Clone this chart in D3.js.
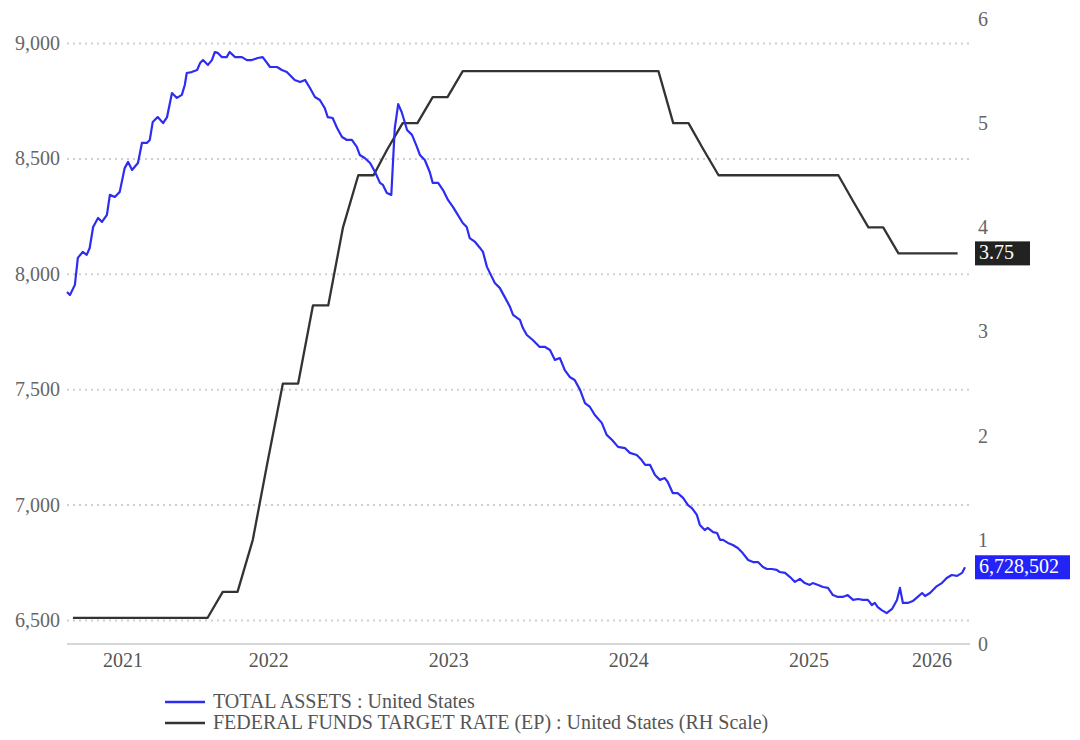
<!DOCTYPE html>
<html>
<head>
<meta charset="utf-8">
<script src="https://cdn.jsdelivr.net/npm/d3@7"></script>
<style>
  body { margin: 0; background: #fff; }
  svg text { font-family: "Liberation Serif", "Times New Roman", serif; }
</style>
</head>
<body>
<svg id="chart"></svg>
<script>
// total assets, billions of US$ (weekly)
var assetDates = ["2021-05-19","2021-05-25","2021-06-04","2021-06-10","2021-06-20","2021-06-28","2021-07-04","2021-07-11","2021-07-21","2021-07-29",
  "2021-08-08","2021-08-14","2021-08-24","2021-09-03","2021-09-13","2021-09-20","2021-09-28","2021-10-10","2021-10-18","2021-10-28",
  "2021-11-03","2021-11-09","2021-11-19","2021-11-30","2021-12-08","2021-12-18","2021-12-28","2022-01-07","2022-01-13","2022-01-17",
  "2022-01-27","2022-02-07","2022-02-13","2022-02-19","2022-03-01","2022-03-09","2022-03-15","2022-03-21","2022-03-29","2022-04-08",
  "2022-04-14","2022-04-25","2022-05-09","2022-05-19","2022-05-29","2022-06-10","2022-06-20","2022-07-05","2022-07-19","2022-07-29",
  "2022-08-08","2022-08-14","2022-08-24","2022-09-04","2022-09-14","2022-09-24","2022-10-04","2022-10-14","2022-10-24","2022-10-30",
  "2022-11-09","2022-11-18","2022-11-28","2022-12-08","2022-12-18","2022-12-28","2023-01-03","2023-01-13","2023-01-24","2023-02-03",
  "2023-02-13","2023-02-19","2023-02-27","2023-03-08","2023-03-15","2023-03-22","2023-03-29","2023-04-09","2023-04-19","2023-04-29",
  "2023-05-05","2023-05-15","2023-05-25","2023-05-31","2023-06-11","2023-06-21","2023-07-01","2023-07-11","2023-07-21","2023-07-31",
  "2023-08-08","2023-08-14","2023-08-25","2023-09-04","2023-09-10","2023-09-18","2023-09-24","2023-10-04","2023-10-14","2023-10-24",
  "2023-11-04","2023-11-10","2023-11-24","2023-11-30","2023-12-08","2023-12-20","2024-01-03","2024-01-14","2024-01-24","2024-02-03",
  "2024-02-13","2024-02-23","2024-03-04","2024-03-14","2024-03-25","2024-04-04","2024-04-14","2024-04-24","2024-05-08","2024-05-18",
  "2024-05-29","2024-06-10","2024-06-24","2024-07-04","2024-07-18","2024-07-28","2024-08-04","2024-08-14","2024-08-24","2024-09-03",
  "2024-09-13","2024-09-19","2024-09-29","2024-10-09","2024-10-20","2024-10-30","2024-11-07","2024-11-17","2024-11-23","2024-12-03",
  "2024-12-09","2024-12-20","2024-12-28","2025-01-03","2025-01-09","2025-01-19","2025-01-29","2025-02-08","2025-02-18","2025-03-01",
  "2025-03-11","2025-03-21","2025-03-31","2025-04-08","2025-04-18","2025-04-28","2025-05-04","2025-05-15","2025-05-25","2025-06-04",
  "2025-06-14","2025-06-24","2025-07-04","2025-07-10","2025-07-21","2025-07-31","2025-08-10","2025-08-20","2025-08-30","2025-09-09",
  "2025-09-19","2025-09-30","2025-10-10","2025-10-20","2025-10-30","2025-11-07","2025-11-13","2025-11-19","2025-11-27","2025-12-07",
  "2025-12-18","2025-12-28","2026-01-03","2026-01-09","2026-01-19","2026-01-29","2026-02-08","2026-02-17","2026-02-23","2026-03-05",
  "2026-03-19","2026-03-29","2026-04-08","2026-04-18","2026-04-29","2026-05-09","2026-05-15"];
var assetValues = [7921,7908,7952,8069,8095,8082,8112,8203,8242,8225,
  8255,8342,8333,8355,8458,8485,8450,8480,8567,8567,
  8580,8658,8679,8653,8679,8783,8762,8775,8818,8870,
  8874,8883,8913,8926,8905,8926,8961,8957,8939,8939,
  8961,8939,8939,8926,8926,8935,8939,8896,8896,8883,
  8874,8861,8840,8831,8840,8805,8766,8753,8718,8679,
  8675,8632,8593,8580,8580,8550,8515,8502,8480,8441,
  8394,8385,8350,8342,8630,8735,8701,8623,8602,8550,
  8515,8493,8441,8394,8394,8363,8320,8290,8255,8220,
  8203,8155,8138,8112,8095,8030,8004,7960,7939,7900,
  7856,7822,7800,7765,7735,7713,7683,7683,7670,7627,
  7635,7583,7553,7540,7497,7440,7423,7388,7354,7302,
  7280,7250,7245,7224,7215,7193,7172,7172,7128,7107,
  7115,7098,7050,7050,7029,6998,6985,6955,6912,6890,
  6899,6881,6877,6847,6847,6834,6825,6812,6790,6760,
  6751,6751,6730,6721,6721,6717,6708,6704,6686,6665,
  6678,6660,6652,6660,6652,6643,6639,6608,6600,6600,
  6608,6587,6591,6587,6587,6565,6574,6556,6543,6530,
  6548,6587,6639,6574,6574,6582,6600,6617,6604,6617,
  6647,6660,6682,6695,6691,6704,6728.502];

// fed funds target rate, month end, %
var rateDates = ["2021-05-31","2021-06-30","2021-07-31","2021-08-31","2021-09-30","2021-10-31","2021-11-30","2021-12-31",
  "2022-01-31","2022-02-28","2022-03-31","2022-04-30","2022-05-31","2022-06-30","2022-07-31","2022-08-31","2022-09-30","2022-10-31","2022-11-30","2022-12-31",
  "2023-01-31","2023-02-28","2023-03-31","2023-04-30","2023-05-31","2023-06-30","2023-07-31","2023-08-31","2023-09-30","2023-10-31","2023-11-30","2023-12-31",
  "2024-01-31","2024-02-29","2024-03-31","2024-04-30","2024-05-31","2024-06-30","2024-07-31","2024-08-31","2024-09-30","2024-10-31","2024-11-30","2024-12-31",
  "2025-01-31","2025-02-28","2025-03-31","2025-04-30","2025-05-31","2025-06-30","2025-07-31","2025-08-31","2025-09-30","2025-10-31","2025-11-30","2025-12-31",
  "2026-01-31","2026-02-28","2026-03-31","2026-04-30"];
var rateValues = [0.25,0.25,0.25,0.25,0.25,0.25,0.25,0.25,
  0.25,0.25,0.5,0.5,1,1.75,2.5,2.5,3.25,3.25,4,4.5,
  4.5,4.75,5,5,5.25,5.25,5.5,5.5,5.5,5.5,5.5,5.5,
  5.5,5.5,5.5,5.5,5.5,5.5,5.5,5.5,5,5,4.75,4.5,
  4.5,4.5,4.5,4.5,4.5,4.5,4.5,4.5,4.25,4,4,3.75,
  3.75,3.75,3.75,3.75];

var leftTicks = [6500, 7000, 7500, 8000, 8500, 9000];
var rightTicks = [0, 1, 2, 3, 4, 5, 6];
var yearLabels = ["2021", "2022", "2023", "2024", "2025", "2026"];

var width = 1080, height = 740;
var margin = {top: 19, left: 67, right: 115, bottom: 96};
var blue = "#2d2df2", dark = "#333333";
var fontSize = "20px";

var svg = d3.select("#chart").attr("width", width).attr("height", height);

var parse = d3.utcParse("%Y-%m-%d");
var assets = assetDates.map((d, i) => ({date: parse(d), value: assetValues[i]}));
var rates = rateDates.map((d, i) => ({date: parse(d), value: rateValues[i]}));

var xScale = d3.scaleUtc().domain(d3.extent(assets, d => d.date)).range([margin.left, 965]);
var yLeft = d3.scaleLinear().domain([6500, 9000]).range([620, 43]);
var yRight = d3.scaleLinear().domain([0, 6]).range([height - margin.bottom, margin.top]);

//left axis + dotted grid
var gridW = 973 - margin.left;
svg.append("g").attr("transform", `translate(${margin.left},0)`)
  .call(d3.axisLeft(yLeft).tickValues(leftTicks).tickFormat(d3.format(",")).tickSize(-gridW).tickPadding(7))
  .call(g => g.select(".domain").remove())
  .call(g => g.selectAll("line").attr("stroke", "#cfcfcf").attr("stroke-width", 2).attr("stroke-dasharray", "2,4"))
  .call(g => g.selectAll("text").attr("fill", "#666").attr("font-size", fontSize));

//right axis
svg.append("g").attr("transform", `translate(970,0)`)
  .call(d3.axisRight(yRight).tickValues(rightTicks).tickFormat(d3.format("d")).tickSize(0).tickPadding(8))
  .call(g => g.select(".domain").remove())
  .call(g => g.selectAll("text").attr("fill", "#666").attr("font-size", fontSize));

//x axis line
svg.append("line").attr("x1", margin.left).attr("x2", 970)
  .attr("y1", height - margin.bottom).attr("y2", height - margin.bottom)
  .attr("stroke", "#d6d6d6").attr("stroke-width", 2);

// year labels sit in the middle of the visible part of each year
var x0 = xScale.domain()[0], x1 = xScale.domain()[1];
svg.selectAll(".year").data(yearLabels).join("text").attr("class", "year")
  .attr("x", y => {
    var a = d3.max([x0, new Date(Date.UTC(+y, 0, 1))]);
    var b = d3.min([x1, new Date(Date.UTC(+y + 1, 0, 1))]);
    return (xScale(a) + xScale(b)) / 2;
  })
  .attr("y", 662).attr("text-anchor", "middle").attr("dominant-baseline", "middle")
  .attr("font-size", fontSize).attr("fill", "#555").text(y => y);

//lines
var rateLine = d3.line().x(d => xScale(d.date)).y(d => yRight(d.value));
var assetLine = d3.line().x(d => xScale(d.date)).y(d => yLeft(d.value));

svg.append("path").datum(rates).attr("d", rateLine)
  .attr("fill", "none").attr("stroke", dark).attr("stroke-width", 2.3).attr("stroke-linejoin", "round");
svg.append("path").datum(assets).attr("d", assetLine)
  .attr("fill", "none").attr("stroke", blue).attr("stroke-width", 2.2).attr("stroke-linejoin", "round");

// last value tags
var makeTag = (yPos, label, color, w) => {
  var g = svg.append("g").attr("transform", `translate(975,${yPos})`);
  g.append("rect").attr("x", 0).attr("y", -12).attr("width", w).attr("height", 24).attr("fill", color);
  g.append("text").attr("x", 4).attr("y", 1).attr("dominant-baseline", "middle")
    .attr("font-size", fontSize).attr("fill", "#fff").text(label);
};
var lastRate = rates[rates.length - 1];
var lastAsset = assets[assets.length - 1];
makeTag(yRight(lastRate.value), d3.format(".2f")(lastRate.value), "#222", 55);
makeTag(yLeft(lastAsset.value), d3.format(",")(Math.round(lastAsset.value * 1000)), "#2323f7", 95);

//legend
var legend = [["TOTAL ASSETS : United States", blue], ["FEDERAL FUNDS TARGET RATE (EP) : United States (RH Scale)", dark]];
var lg = svg.append("g").attr("transform", "translate(165,702)");
legend.forEach((l, i) => {
  lg.append("line").attr("x1", 0).attr("x2", 40).attr("y1", i * 21).attr("y2", i * 21)
    .attr("stroke", l[1]).attr("stroke-width", 2.5);
  lg.append("text").attr("x", 48).attr("y", i * 21 + 1).attr("dominant-baseline", "middle")
    .attr("font-size", fontSize).attr("fill", "#555").text(l[0]);
});
</script>
</body>
</html>
